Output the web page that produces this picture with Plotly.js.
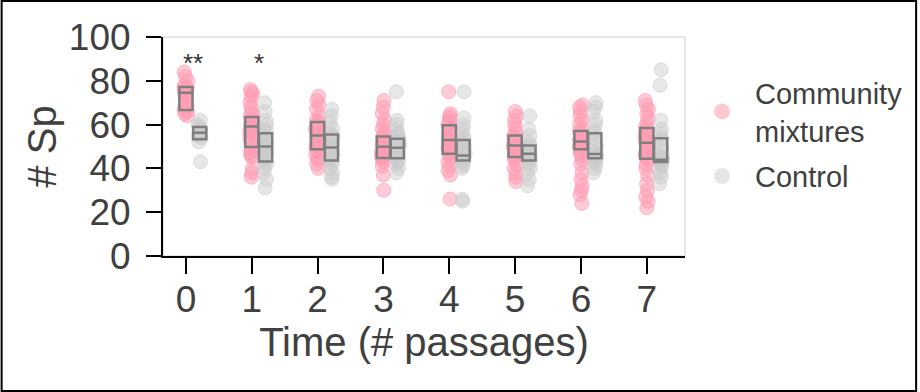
<!DOCTYPE html>
<html>
<head>
<meta charset="utf-8">
<script src="https://cdn.plot.ly/plotly-3.0.1.min.js"></script>
<style>
html,body{margin:0;padding:0;background:#fff;}
#chart{width:920px;height:392px;}
</style>
</head>
<body>
<div id="chart"></div>
<script>
// ---- data ----
const times = [0, 1, 2, 3, 4, 5, 6, 7];
const tickLabels = ['0', '1', '2', '3', '4', '5', '6', '7'];
const yTicks = [0, 20, 40, 60, 80, 100];

// Community mixtures: # species per replicate at each passage
const mixT0 = [84, 82, 80, 78, 77, 77, 76, 75, 75, 74, 73, 71, 69, 68, 67, 66, 65, 64];
const mixT1 = [76, 75, 74, 73, 70, 68, 66, 65, 64, 63, 62, 61, 60, 59, 59, 58, 57, 56, 55, 53, 52, 50, 49, 48, 47, 46, 45, 40, 38, 36];
const mixT2 = [73, 71, 69, 67, 64, 62, 61, 61, 60, 60, 59, 58, 57, 56, 55, 55, 54, 53, 52, 51, 50, 49, 48, 47, 46, 45, 44, 42, 40];
const mixT3 = [71, 68, 65, 62, 60, 58, 56, 55, 54, 53, 52, 51, 50, 50, 49, 48, 47, 46, 46, 45, 45, 44, 43, 41, 37, 30];
const mixT4 = [75, 65, 64, 63, 62, 61, 60, 59, 58, 57, 56, 55, 54, 53, 53, 52, 51, 50, 49, 48, 47, 46, 45, 43, 41, 39, 37, 26];
const mixT5 = [66, 64, 62, 60, 58, 56, 55, 54, 53, 52, 51, 50, 50, 49, 48, 47, 46, 45, 44, 42, 40, 38, 36, 34];
const mixT6 = [69, 68, 66, 64, 62, 60, 58, 57, 56, 55, 54, 53, 52, 52, 51, 50, 49, 48, 47, 46, 44, 42, 38, 35, 32, 30, 28, 24];
const mixT7 = [71, 69, 67, 65, 63, 61, 59, 58, 57, 56, 55, 54, 53, 52, 51, 50, 49, 48, 47, 46, 45, 44, 42, 40, 37, 33, 30, 27, 25, 22];

// Control
const ctrlT0 = [62, 60, 59, 58, 57, 57, 56, 55, 54, 52, 43];
const ctrlT1 = [70, 66, 62, 60, 58, 57, 56, 55, 53, 52, 51, 50, 50, 49, 48, 47, 46, 45, 44, 43, 42, 40, 38, 35, 31];
const ctrlT2 = [67, 64, 61, 58, 56, 55, 54, 53, 52, 51, 50, 50, 49, 48, 47, 46, 45, 44, 43, 42, 40, 38, 36, 35];
const ctrlT3 = [75, 62, 60, 58, 56, 55, 54, 53, 52, 51, 50, 50, 49, 48, 47, 46, 45, 44, 43, 42, 40, 38];
const ctrlT4 = [75, 63, 60, 58, 56, 54, 53, 52, 50, 49, 48, 47, 46, 46, 45, 45, 44, 43, 42, 41, 40, 26, 25];
const ctrlT5 = [64, 58, 55, 52, 51, 50, 49, 48, 47, 47, 46, 45, 44, 43, 42, 40, 38, 35, 32];
const ctrlT6 = [70, 68, 66, 62, 60, 57, 56, 54, 52, 50, 48, 47, 46, 46, 45, 45, 44, 43, 42, 40, 38];
const ctrlT7 = [85, 78, 62, 58, 56, 54, 53, 50, 48, 46, 45, 45, 44, 44, 43, 42, 41, 40, 38, 36, 33];

// box statistics (quartiles and medians)
const mixQ1  = [66.7, 49.8, 48.8, 44.8, 46.7, 45.2, 48.8, 44.4];
const mixMed = [74.5, 59.1, 55.0, 49.9, 53.0, 50.5, 52.3, 51.7];
const mixQ3  = [77.2, 63.5, 61.2, 54.6, 59.7, 55.0, 57.1, 58.5];
const ctrlQ1  = [53.3, 43.2, 43.6, 44.6, 43.6, 43.6, 44.6, 42.9];
const ctrlMed = [56.3, 50.0, 49.5, 49.4, 45.9, 46.7, 46.6, 44.0];
const ctrlQ3  = [58.9, 56.0, 55.5, 53.5, 53.0, 50.5, 56.0, 53.8];

// significance marks
const sigTimes = [0, 1];
const sigLabels = ['**', '*'];

// ---- build ----
const mixGroups = [mixT0, mixT1, mixT2, mixT3, mixT4, mixT5, mixT6, mixT7];
const ctrlGroups = [ctrlT0, ctrlT1, ctrlT2, ctrlT3, ctrlT4, ctrlT5, ctrlT6, ctrlT7];
const ctrlShift = 0.21;
const boxW = 0.2;

function flatten(groups, shift) {
  const xs = [], ys = [];
  groups.forEach((g, i) => g.forEach(v => { xs.push(times[i] + shift); ys.push(v); }));
  return {xs, ys};
}
const mixPts = flatten(mixGroups, 0);
const ctrlPts = flatten(ctrlGroups, ctrlShift);

const pinkFill = 'rgba(255,160,182,0.55)';
const pinkEdge = 'rgba(255,150,175,0.6)';
const grayFill = 'rgba(205,205,205,0.48)';
const grayEdge = 'rgba(200,200,200,0.52)';

const pointTrace = (pts, fill, edge) => ({
  type: 'box', x: pts.xs, y: pts.ys, boxpoints: 'all', jitter: 0.35, pointpos: 0,
  width: boxW, fillcolor: 'rgba(0,0,0,0)', line: {width: 0, color: 'rgba(0,0,0,0)'},
  marker: {color: fill, size: 14, line: {width: 1, color: edge}},
  showlegend: false, hoverinfo: 'y'
});
const statTrace = (xs, q1, med, q3) => ({
  type: 'box', x: xs, q1: q1, median: med, q3: q3, lowerfence: q1, upperfence: q3,
  width: boxW, whiskerwidth: 0, fillcolor: 'rgba(0,0,0,0)',
  line: {color: '#7f7f7f', width: 2.5}, showlegend: false, boxpoints: false
});

const data = [
  pointTrace(mixPts, pinkFill, pinkEdge),
  pointTrace(ctrlPts, grayFill, grayEdge),
  statTrace(times, mixQ1, mixMed, mixQ3),
  statTrace(times.map(t => t + ctrlShift), ctrlQ1, ctrlMed, ctrlQ3),
  {type: 'scatter', mode: 'markers', x: [null], y: [null], name: 'Community<br>mixtures',
   legendgroup: 'mix', marker: {color: 'rgba(255,182,196,0.75)', size: 18}, showlegend: true},
  {type: 'scatter', mode: 'markers', x: [null], y: [null], name: 'Control',
   legendgroup: 'ctrl', marker: {color: 'rgba(222,222,222,0.8)', size: 18}, showlegend: true}
];

const L = 163, R = 233, T = 37, B = 136, W = 920, H = 392;
const pw = W - L - R, ph = H - T - B;
const txt = '#404040';
const fam = 'Liberation Sans, Arial, sans-serif';
const xr = [-0.348, 7.58];

const layout = {
  width: W, height: H,
  margin: {l: L, r: R, t: T, b: B, pad: 0},
  paper_bgcolor: '#fff', plot_bgcolor: '#fff',
  font: {family: fam, color: txt},
  boxmode: 'overlay',
  showlegend: true,
  xaxis: {
    range: xr, tickvals: times, ticktext: tickLabels,
    ticks: 'outside', ticklen: 16, tickwidth: 2, tickcolor: '#000',
    showline: true, linecolor: '#000', linewidth: 2,
    showgrid: false, zeroline: false, ticklabelstandoff: -6,
    tickfont: {size: 37, color: txt, family: fam},
    title: {text: 'Time (# passages)', font: {size: 40, color: txt, family: fam}, standoff: 2},
    automargin: false
  },
  xaxis2: {
    overlaying: 'x', anchor: 'y', side: 'bottom', range: xr, tickvals: times,
    ticks: 'inside', ticklen: 4, tickwidth: 2, tickcolor: '#000',
    showticklabels: false, showline: false, showgrid: false, zeroline: false
  },
  yaxis: {
    range: [0, 100], tickvals: yTicks,
    ticks: 'outside', ticklen: 15, tickwidth: 2, tickcolor: '#000',
    showline: true, linecolor: '#000', linewidth: 2,
    showgrid: false, zeroline: false, ticklabelstandoff: 8,
    tickfont: {size: 37, color: txt, family: fam},
    title: {text: '# Sp', font: {size: 40, color: txt, family: fam}, standoff: 0},
    automargin: false
  },
  yaxis2: {
    overlaying: 'y', anchor: 'x', side: 'left', range: [0, 100], tickvals: yTicks,
    ticks: 'inside', ticklen: 4, tickwidth: 2, tickcolor: '#000',
    showticklabels: false, showline: false, showgrid: false, zeroline: false
  },
  legend: {
    x: (691 - L) / pw, xanchor: 'left', y: 0.862, yanchor: 'top',
    font: {size: 29, color: txt, family: fam}, bgcolor: 'rgba(0,0,0,0)',
    itemwidth: 56, tracegroupgap: 5
  },
  annotations: sigTimes.map((t, i) => ({
    x: t + ctrlShift / 2, y: 88, xref: 'x', yref: 'y', text: sigLabels[i],
    showarrow: false, font: {size: 26, color: '#333', family: fam}
  })),
  shapes: [
    {type: 'rect', xref: 'paper', yref: 'paper', x0: 0, x1: 1, y0: 0, y1: 1,
     line: {color: '#e6e6e6', width: 2}, layer: 'below'},
    {type: 'rect', xref: 'paper', yref: 'paper',
     x0: (1 - L) / pw, x1: (W - 1 - L) / pw, y0: -(H - 1 - T - ph) / ph, y1: (ph + T - 1) / ph,
     line: {color: '#000', width: 2}, layer: 'above'}
  ]
};

Plotly.newPlot('chart', data, layout, {staticPlot: true, displayModeBar: false});
</script>
</body>
</html>
